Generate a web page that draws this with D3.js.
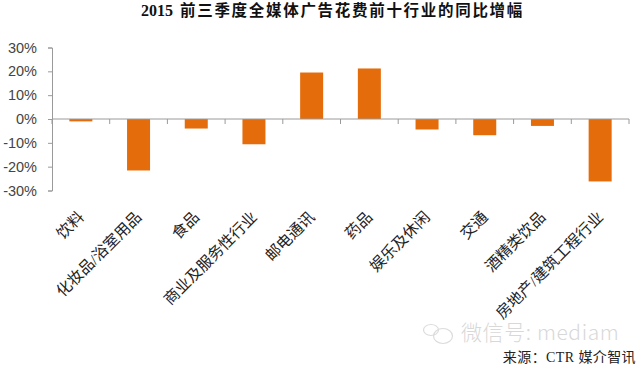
<!DOCTYPE html>
<html><head><meta charset="utf-8">
<script src="https://cdnjs.cloudflare.com/ajax/libs/d3/7.8.5/d3.min.js"></script>
<style>html,body{margin:0;padding:0;background:#fff}svg{display:block}</style>
</head><body><svg id="c" width="640" height="365"></svg>
<script>
const categories = ["饮料","化妆品/浴室用品","食品","商业及服务性行业","邮电通讯","药品","娱乐及休闲","交通","酒精类饮品","房地产/建筑工程行业"];
const values = [-1, -21.6, -4, -10.6, 19.5, 21.2, -4.4, -6.8, -2.9, -26.2];
const yTicks = [-30,-20,-10,0,10,20,30];
const titleYear = "2015";
const titleRest = "前三季度全媒体广告花费前十行业的同比增幅";
const sourceText = "来源：CTR 媒介智讯";
const watermarkText = "微信号: mediam";

const cjk = "'Liberation Serif','Noto Sans CJK SC',serif";
const svg = d3.select("#c");
const xStep = d3.scaleBand().domain(categories).range([52,629]);
const y = d3.scaleLinear().domain([-30,30]).range([190.5,47.5]);
const axisColor = "#9a9a9a";

const title = svg.append("text").attr("x",141).attr("y",16).attr("text-anchor","start")
  .attr("font-family",cjk).attr("font-weight",700).attr("font-size",15.5).attr("fill","#111");
title.append("tspan").attr("font-size",16).text(titleYear);
title.append("tspan").attr("x",180).attr("letter-spacing",1.7).text(titleRest);

svg.selectAll("rect.bar").data(values).join("rect").attr("class","bar")
  .attr("x",(d,i)=>xStep(categories[i])+xStep.bandwidth()/2-11.5)
  .attr("width",23)
  .attr("y",d=>y(Math.max(d,0)))
  .attr("height",d=>Math.abs(y(d)-y(0)))
  .attr("fill","#E46C0A");

const yAxis = d3.axisLeft(y).tickValues(yTicks).tickSize(4).tickPadding(11).tickFormat(d=>d+"%");
const gy = svg.append("g").attr("transform","translate(52,0)").call(yAxis);
gy.select(".domain").attr("stroke",axisColor);
gy.selectAll(".tick line").attr("stroke",axisColor);
gy.selectAll("text").attr("font-family","'Liberation Sans',sans-serif").attr("font-size",14.5).attr("fill","#444");

const ticksX = categories.map((c,i)=>xStep(c)).concat([629]);
const gx = svg.append("g");
gx.append("line").attr("x1",52).attr("x2",629).attr("y1",y(0)).attr("y2",y(0)).attr("stroke",axisColor);
gx.selectAll("line.t").data(ticksX).join("line").attr("class","t")
  .attr("x1",d=>d).attr("x2",d=>d).attr("y1",y(0)).attr("y2",y(0)+5).attr("stroke",axisColor);

svg.selectAll("text.cat").data(categories).join("text").attr("class","cat")
  .attr("text-anchor","end")
  .attr("transform",c=>`translate(${xStep(c)+xStep.bandwidth()/2+4},${218}) rotate(-45)`)
  .attr("font-family",cjk).attr("font-size",15.5).attr("fill","#222")
  .text(c=>c);

// watermark
const wm = svg.append("g").attr("fill","none").attr("stroke","#dcdcdc").attr("stroke-width",1.2);
wm.append("ellipse").attr("cx",443).attr("cy",336).attr("rx",9.5).attr("ry",7.5);
wm.append("ellipse").attr("cx",431).attr("cy",330).attr("rx",7.5).attr("ry",5.5);
svg.append("text").attr("x",461).attr("y",340).attr("font-family","'Noto Sans CJK SC',sans-serif")
  .attr("font-size",21).attr("font-weight",300).attr("letter-spacing",0.6).attr("fill","#d8d8d8").text(watermarkText);

svg.append("text").attr("x",636).attr("y",362).attr("text-anchor","end")
  .attr("font-family",cjk).attr("font-size",14).attr("fill","#222").attr("letter-spacing",0.4).text(sourceText);
</script></body></html>
